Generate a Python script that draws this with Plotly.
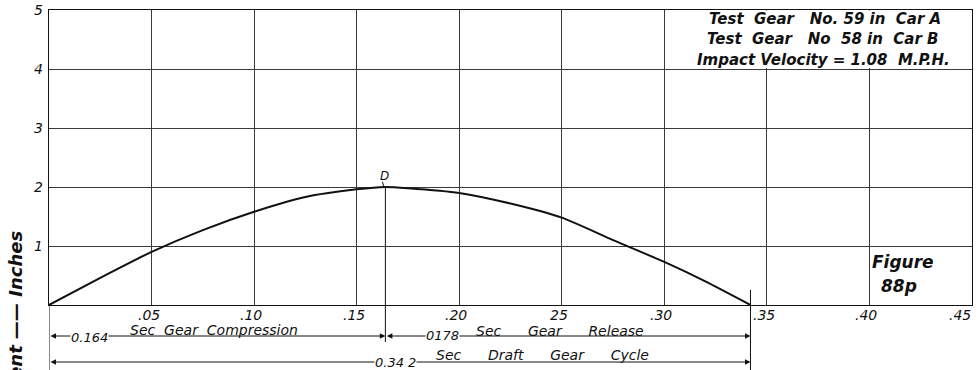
import plotly.graph_objects as go

# Draft gear displacement record (time in seconds, displacement in inches)
time_s = [0, 0.025, 0.05, 0.075, 0.10, 0.125, 0.15, 0.164, 0.175, 0.20, 0.225,
          0.25, 0.275, 0.30, 0.32, 0.342]
displacement_in = [0, 0.46, 0.90, 1.27, 1.58, 1.83, 1.96, 2.0, 1.98, 1.90, 1.72,
                   1.48, 1.10, 0.73, 0.40, 0]

x_tick_vals = [0.05, 0.10, 0.15, 0.20, 0.25, 0.30, 0.35, 0.40, 0.45]
x_tick_text = [".05", ".10", ".15", ".20", "25", ".30", ".35", ".40", ".45"]
y_tick_vals = [1, 2, 3, 4, 5]
y_tick_text = ["1", "2", "3", "4", "5"]

compression_s = 0.164
release_s = 0.178
cycle_s = 0.342
peak_in = 2.0

NB = "\u00a0"
header_lines = [
    f"Test{NB*2}Gear{NB*3}No.{NB}59{NB}in{NB}{NB}Car{NB}A",
    f"Test{NB*2}Gear{NB*3}No{NB*2}58{NB}in{NB}{NB}Car{NB}B",
    f"Impact{NB}Velocity{NB}={NB}1.08{NB*2}M.P.H.",
]

X_MAX, Y_MAX = 0.45, 5
W, H = 980, 370
M_L, M_R, M_T, M_B = 49, 8, 10, 65
PLOT_W = W - M_L - M_R
PLOT_H = H - M_T - M_B
INK = "#111111"
GRID = "#3a3a3a"
FONT = "DejaVu Sans"


def below(px):
    """Paper y for a point px pixels below the x axis."""
    return -px / PLOT_H


def font(size, bold=False):
    f = dict(family=FONT, size=size, color=INK, style="italic")
    if bold:
        f["weight"] = "bold"
    return f


def spaced(words, gap):
    return (NB * gap).join(words)


fig = go.Figure()
fig.add_trace(go.Scatter(
    x=time_s, y=displacement_in, mode="lines",
    line=dict(color=INK, width=2, shape="spline", smoothing=0.6),
    hoverinfo="skip", showlegend=False,
))

shapes = [
    # blank panel behind the header text
    dict(type="rect", xref="x", yref="y", x0=0.3174, x1=0.4488, y0=4.015, y1=4.99,
         fillcolor="white", line=dict(width=0), layer="between"),
    # vertical at peak D down to the dimension line
    dict(type="line", xref="x", yref="paper", x0=compression_s, x1=compression_s,
         y0=peak_in / Y_MAX, y1=below(37), line=dict(color=INK, width=1)),
    # vertical at end of cycle
    dict(type="line", xref="x", yref="paper", x0=cycle_s, x1=cycle_s,
         y0=below(-15), y1=below(70), line=dict(color=INK, width=1)),
    # left border carried below the axis
    dict(type="line", xref="x", yref="paper", x0=0, x1=0,
         y0=0, y1=below(70), line=dict(color=INK, width=1)),
    # small tick from D to the curve
    dict(type="line", xref="x", yref="y", x0=0.1632, x1=0.1626,
         y0=peak_in, y1=peak_in + 0.09, line=dict(color=INK, width=1)),
]

annotations = []

# tick labels
for v, t in zip(x_tick_vals, x_tick_text):
    last = v == x_tick_vals[-1]
    annotations.append(dict(x=v, y=below(10), xref="x", yref="paper", text=t,
                            xanchor="right" if last else "center",
                            xshift=1 if last else -3, font=font(14)))
for v, t in zip(y_tick_vals, y_tick_text):
    annotations.append(dict(x=0, y=v, xref="x", yref="y", text=t,
                            xanchor="right", xshift=-4, font=font(14)))

# dimension arrows
for x0, x1, py in [(0, compression_s, 31), (compression_s, cycle_s, 31), (0, cycle_s, 57)]:
    annotations.append(dict(
        x=x1, y=below(py), xref="x", yref="paper",
        ax=x0, ay=0, axref="x", ayref="pixel",
        text="", showarrow=True, arrowside="end+start",
        arrowhead=2, arrowsize=1.1, arrowwidth=1, arrowcolor=INK,
    ))

# dimension labels
annotations += [
    dict(x=0.0195, y=below(32), text=f"{compression_s:.3f}", font=font(13),
         bgcolor="white", borderpad=0),
    dict(x=0.0805, y=below(25), text=spaced(["Sec", "Gear", "Compression"], 2), font=font(14)),
    dict(x=0.192, y=below(31), text="0178", font=font(13), bgcolor="white", borderpad=0),
    dict(x=0.249, y=below(26), text=spaced(["Sec", "Gear", "Release"], 6), font=font(14)),
    dict(x=0.169, y=below(57), text="0.34 2", font=font(13), bgcolor="white", borderpad=0),
    dict(x=0.2405, y=below(50), text=spaced(["Sec", "Draft", "Gear", "Cycle"], 6), font=font(14)),
]

# header, point label, figure number
annotations += [
    dict(x=0.3783, y=4.85, xref="x", yref="y", text=header_lines[0], font=font(15, True)),
    dict(x=0.3775, y=4.51, xref="x", yref="y", text=header_lines[1], font=font(15, True)),
    dict(x=0.3774, y=4.15, xref="x", yref="y", text=header_lines[2], font=font(15, True)),
    dict(x=0.1638, y=2.19, xref="x", yref="y", text="D", font=font(12)),
    dict(x=0.4164, y=0.73, xref="x", yref="y", text="Figure", font=font(17, True)),
    dict(x=0.4144, y=0.32, xref="x", yref="y", text="88p", font=font(17, True)),
]

for a in annotations:
    a.setdefault("xref", "x")
    a.setdefault("yref", "paper")
    a.setdefault("showarrow", False)
    a.setdefault("yanchor", "middle")
    a.setdefault("xanchor", "center")

# vertical axis title, running off the lower edge
annotations.append(dict(
    xref="paper", yref="paper", x=(15 - M_L) / PLOT_W, y=(H - M_B - 229) / PLOT_H,
    text=f"Displacement{NB}\u2014\u2014{NB}Inches", textangle=-90, showarrow=False,
    xanchor="center", yanchor="top", font=font(18, True),
))

axis_common = dict(
    showgrid=True, gridcolor=GRID, gridwidth=1, zeroline=False,
    showline=True, linecolor=INK, linewidth=1, mirror=True,
    ticks="", showticklabels=False, automargin=False, fixedrange=True,
)

fig.update_layout(
    width=W, height=H,
    margin=dict(l=M_L, r=M_R, t=M_T, b=M_B, pad=0, autoexpand=False),
    paper_bgcolor="white", plot_bgcolor="white",
    xaxis=dict(range=[0, X_MAX], tickvals=x_tick_vals, **axis_common),
    yaxis=dict(range=[0, Y_MAX], tickvals=y_tick_vals, **axis_common),
    shapes=shapes, annotations=annotations, showlegend=False,
)

fig.write_html("out.html", config={"displayModeBar": False})
